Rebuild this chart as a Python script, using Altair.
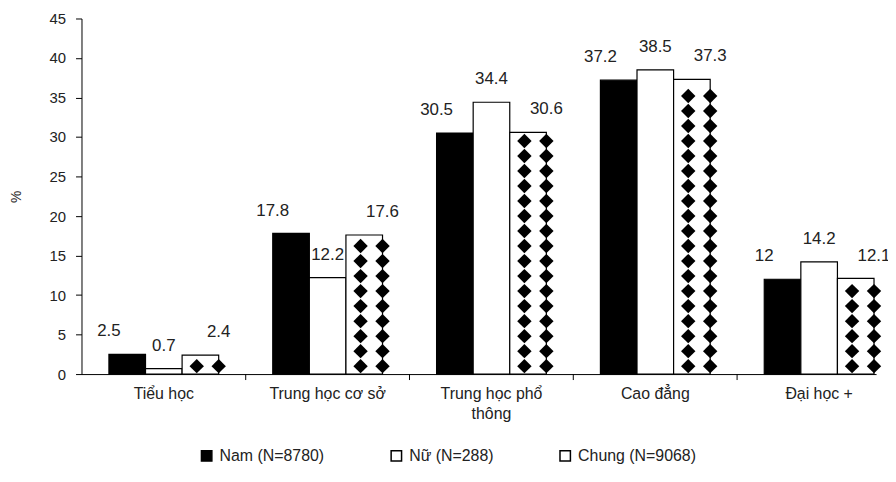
import altair as alt
import pandas as pd

categories = ["Tiểu học", "Trung học cơ sở", "Trung học phổ thông", "Cao đẳng", "Đại học +"]
series = ["Nam (N=8780)", "Nữ (N=288)", "Chung (N=9068)"]
nam = [2.5, 17.8, 30.5, 37.2, 12]
nu = [0.7, 12.2, 34.4, 38.5, 14.2]
chung = [2.4, 17.6, 30.6, 37.3, 12.1]
y_ticks = [0, 5, 10, 15, 20, 25, 30, 35, 40, 45]
boundaries = ["k0", "k1", "k2", "k3", "k4"]

FONT = "Liberation Sans"


def fmt(v):
    return str(int(v)) if float(v).is_integer() else str(v)


rows = []
for i, c in enumerate(categories):
    for s, vals in zip(series, [nam, nu, chung]):
        rows.append({"cat": c, "series": s, "value": vals[i], "label": fmt(vals[i])})
df = pd.DataFrame(rows)

# diamond texture for the "Chung" bars (derived from the chung values)
slots = ["s0", "s1", "s2", "s3", "s4", "s5"]
dia_step = 1.9
dia_rows = []
for c, v in zip(categories, chung):
    y = 1.0
    while y + 0.5 <= v:
        for sl in ["s4", "s5"]:
            dia_rows.append({"cat": c, "slot": sl, "y": y})
        y += dia_step
dia_df = pd.DataFrame(dia_rows)
tick_df = pd.DataFrame({"k": boundaries[1:]})

xscale = alt.Scale(domain=categories, paddingInner=0.33, paddingOuter=0.09, align=0.93)
off_scale = alt.Scale(domain=series, paddingInner=0, paddingOuter=0)
yscale = alt.Scale(domain=[0, 45], nice=False)

x_axis = alt.Axis(
    title=None, labelAngle=0, labelFontSize=16, labelFont=FONT, labelColor="#222",
    domainColor="black", ticks=False,
    labelPadding=12, labelLineHeight=20, labelLimit=300,
    labelExpr="datum.label == 'Trung học phổ thông' ? ['Trung học phổ', 'thông'] : datum.label",
)
y_axis = alt.Axis(
    title="%", titleFontSize=14, titleFont=FONT, titleFontWeight="normal", titleColor="#222",
    titlePadding=26, values=y_ticks, labelOverlap=False, labelFontSize=15, labelFont=FONT,
    labelColor="#222", domainColor="black", tickColor="black", tickSize=6, labelPadding=10,
    grid=False,
)

base = alt.Chart(df)

bars = base.mark_bar(stroke="black", strokeWidth=1.2).encode(
    x=alt.X("cat:N", scale=xscale, axis=x_axis, sort=categories),
    xOffset=alt.XOffset("series:N", scale=off_scale, sort=series),
    y=alt.Y("value:Q", scale=yscale, axis=y_axis),
    fill=alt.Fill(
        "series:N",
        scale=alt.Scale(domain=series, range=["black", "white", "white"]),
        legend=alt.Legend(
            title=None, orient="none", direction="horizontal", legendX=118, legendY=432,
            symbolType="square", symbolSize=110, symbolStrokeColor="black", symbolStrokeWidth=1.5,
            labelFontSize=16, labelFont=FONT, labelColor="#222", columnPadding=63, labelOffset=5,
        ),
    ),
)

labels = base.mark_text(baseline="bottom", dy=-14, fontSize=17, font=FONT, color="#222").encode(
    x=alt.X("cat:N", scale=xscale, axis=None, sort=categories),
    xOffset=alt.XOffset("series:N", scale=off_scale, sort=series),
    y=alt.Y("value:Q", scale=yscale, axis=y_axis),
    text="label:N",
)

diamonds = alt.Chart(dia_df).mark_point(
    shape="diamond", filled=True, color="black", size=210, opacity=1
).encode(
    x=alt.X("cat:N", scale=xscale, axis=None, sort=categories),
    xOffset=alt.XOffset("slot:N", scale=alt.Scale(domain=slots, paddingInner=0, paddingOuter=0)),
    y=alt.Y("y:Q", scale=yscale, axis=y_axis),
)

# axis ticks between category groups
group_ticks = alt.Chart(tick_df).mark_rule(color="black", strokeWidth=1).encode(
    x=alt.X("k:N", scale=alt.Scale(type="point", domain=boundaries, padding=0.4256, align=0.003),
            axis=None),
    y=alt.value(358),
    y2=alt.value(364),
)

chart = (
    alt.layer(bars, diamonds, labels, group_ticks)
    .resolve_scale(xOffset="independent", x="independent")
    .properties(
        width=800,
        height=358,
        autosize=alt.AutoSizeParams(type="none"),
        padding={"left": 74, "top": 9, "right": 12, "bottom": 93},
    )
    .configure_view(stroke=None)
)

chart.save("out.html", embed_options={"renderer": "svg", "actions": False})
